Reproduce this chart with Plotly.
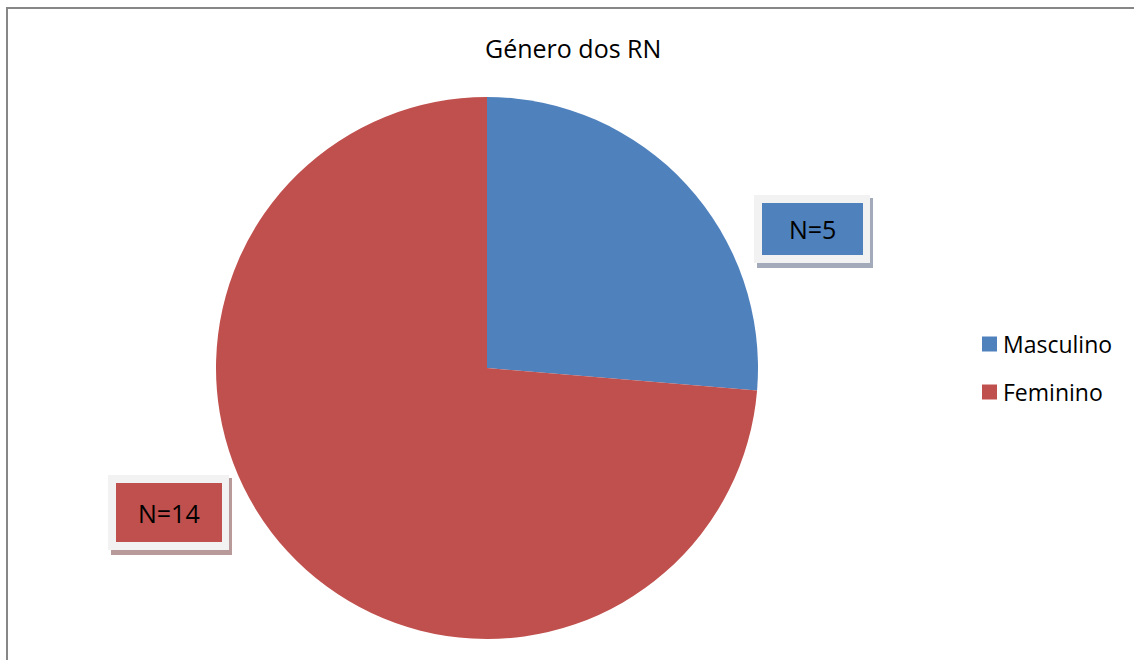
import plotly.graph_objects as go

# ---- data ----
categories = ["Masculino", "Feminino"]
counts = [5, 14]
colors = ["#4F81BD", "#C0504D"]
shadow_colors = ["#A3ABBA", "#B89A9A"]
title_text = "Género dos RN"

W, H = 1134, 660
FONT = "Open Sans"

def px(x):
    return x / W

def py(y):
    return 1 - y / H

fig = go.Figure()

fig.add_trace(go.Pie(
    labels=categories,
    values=counts,
    marker=dict(colors=colors, line=dict(width=0)),
    sort=False,
    direction="clockwise",
    rotation=0,
    textinfo="none",
    hoverinfo="label+value",
    domain=dict(x=[px(216), px(758)], y=[py(639), py(97)]),
    showlegend=False,
))

shapes = []
annotations = []

# outer chart border (only left and top edges are visible in the frame)
border = dict(color="#878787", width=2)
shapes.append(dict(type="line", xref="paper", yref="paper",
                   x0=px(7), x1=px(7), y0=0, y1=py(7), line=border, layer="above"))
shapes.append(dict(type="line", xref="paper", yref="paper",
                   x0=px(6), x1=1, y0=py(8), y1=py(8), line=border, layer="above"))

# data label boxes (layout positions: left, top, right, bottom of inner box)
label_boxes = [(762, 203, 863, 255), (116, 483, 222, 542)]
for (x0, y0, x1, y1), val, col, scol in zip(label_boxes, counts, colors, shadow_colors):
    # shadow
    shapes.append(dict(type="rect", xref="paper", yref="paper",
                       x0=px(x0 - 5), x1=px(x1 + 10), y0=py(y1 + 13), y1=py(y0 - 5),
                       fillcolor=scol, line=dict(width=0), layer="above"))
    # light frame
    shapes.append(dict(type="rect", xref="paper", yref="paper",
                       x0=px(x0 - 8), x1=px(x1 + 7), y0=py(y1 + 8), y1=py(y0 - 8),
                       fillcolor="#F2F2F2", line=dict(width=0), layer="above"))
    # inner
    shapes.append(dict(type="rect", xref="paper", yref="paper",
                       x0=px(x0), x1=px(x1), y0=py(y1), y1=py(y0),
                       fillcolor=col, line=dict(width=0), layer="above"))
    annotations.append(dict(xref="paper", yref="paper",
                            x=px((x0 + x1) / 2), y=py((y0 + y1) / 2),
                            text=f"N={val}", showarrow=False,
                            font=dict(family=FONT, size=25, color="#000000"),
                            xanchor="center", yanchor="middle"))

# legend (manual)
legend_rows = [344, 392]
for cat, col, yc in zip(categories, colors, legend_rows):
    shapes.append(dict(type="rect", xref="paper", yref="paper",
                       x0=px(982), x1=px(997), y0=py(yc + 7.5), y1=py(yc - 7.5),
                       fillcolor=col, line=dict(width=0), layer="above"))
    annotations.append(dict(xref="paper", yref="paper",
                            x=px(1001), y=py(yc), text=cat, showarrow=False,
                            font=dict(family=FONT, size=23, color="#000000"),
                            xanchor="left", yanchor="middle"))

# title
annotations.append(dict(xref="paper", yref="paper", x=px(573), y=py(48),
                        text=title_text, showarrow=False,
                        font=dict(family=FONT, size=25, color="#000000"),
                        xanchor="center", yanchor="middle"))

fig.update_layout(
    width=W, height=H,
    margin=dict(l=0, r=0, t=0, b=0),
    paper_bgcolor="white",
    plot_bgcolor="white",
    shapes=shapes,
    annotations=annotations,
    showlegend=False,
)

fig.write_html(
    "out.html",
    config={"displayModeBar": False},
    post_script="document.body.style.margin='0';document.body.style.overflow='hidden';",
)
